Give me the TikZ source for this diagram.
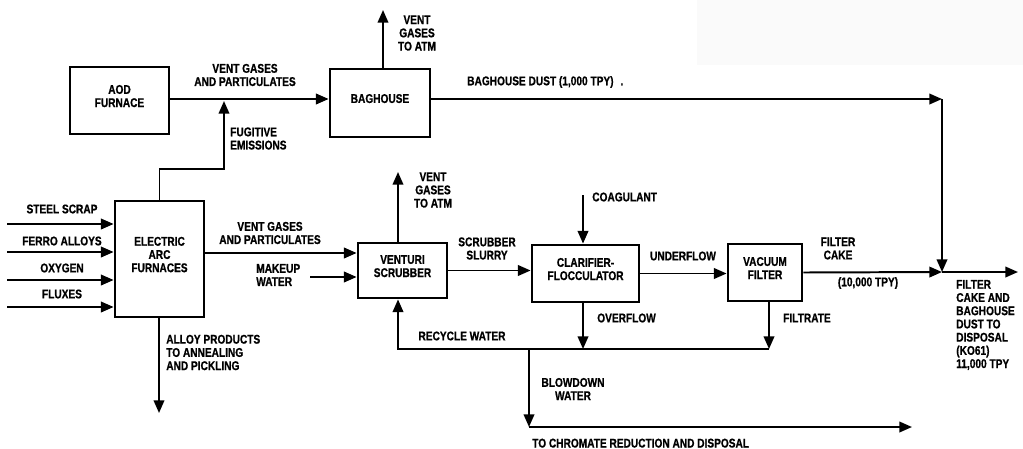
\documentclass[tikz,border=0pt]{standalone}
\usepackage{fontspec}
\setmainfont{Liberation Sans}[FakeStretch=0.8,BoldFeatures={FakeBold=0.8}]
\usetikzlibrary{arrows.meta,fit}
\begin{document}
\begin{tikzpicture}[x=0.025cm,y=-0.025cm,
  box/.style={draw,line width=2pt,inner sep=0pt,align=center,
    font=\bfseries\fontsize{9}{9.4}\selectfont},
  lbl/.style={inner sep=0pt,align=center,font=\bfseries\fontsize{9}{9.4}\selectfont},
  flow/.style={line width=1.4pt,-{Triangle[length=9pt,width=7.5pt]}}]
\useasboundingbox (0,0) rectangle (1023,448);
% faint shaded patch in the upper right corner
\fill[black!2] (697,0) rectangle (1023,65);

% process units
\node[box,fit={(70,67) (169,134)}] (aod) {AOD\\FURNACE};
\node[box,fit={(330,69) (430,137)}] (bag) {BAGHOUSE};
\node[box,fit={(115,201) (204,317)}] (eaf) {ELECTRIC\\ARC\\FURNACES};
\node[box,fit={(358,243) (447,298)}] (ven) {VENTURI\\SCRUBBER};
\node[box,fit={(532,245) (639,302)}] (cla) {CLARIFIER-\\FLOCCULATOR};
\node[box,fit={(728,244) (802,301)}] (vac) {VACUUM\\FILTER};

% reference points for the connectors
\coordinate (top) at (0,99);
\coordinate (ventA) at (383,10);
\coordinate (fugA) at (224,169);
\coordinate (fugB) at (224,101);
\coordinate (dustEnd) at (942,99);
\coordinate (junc) at (942,272);
\coordinate (outEnd) at (1018,272);
\coordinate (in1) at (7,224);
\coordinate (in2) at (7,252);
\coordinate (in3) at (7,280);
\coordinate (in4) at (7,307);
\coordinate (vgIn) at (0,253);
\coordinate (mw) at (310,277);
\coordinate (ventB) at (398,172);
\coordinate (coag) at (583,195);
\coordinate (rw) at (0,349);
\coordinate (filt) at (769,349);
\coordinate (bd) at (529,349);
\coordinate (bdEnd) at (529,427);
\coordinate (chromEnd) at (912,427);
\coordinate (alloy) at (159,413);

% AOD / baghouse line
\draw[flow] (aod.east |- top) -- (bag.west |- top);
\draw[flow] (bag.north -| ventA) -- (ventA);
\draw[flow] (eaf.north) |- (fugA) -- (fugB);
\draw[flow] (bag.east |- top) -- (dustEnd);
\draw[flow] (dustEnd) -- (junc);

% electric arc furnace line
\foreach \i in {in1,in2,in3,in4} \draw[flow] (\i) -- (\i -| eaf.west);
\draw[flow] (eaf.east |- vgIn) -- (ven.west |- vgIn);
\draw[flow] (eaf.south -| alloy) -- (alloy);
\draw[flow] (mw) -- (mw -| ven.west);
\draw[flow] (ven.north -| ventB) -- (ventB);
\draw[flow] (ven.east) -- (ven.east -| cla.west);
\draw[flow] (coag) -- (coag |- cla.north);
\draw[flow] (cla.east) -- (cla.east -| vac.west);
\draw[flow] (vac.east) -- (junc);
\draw[flow] (junc) -- (outEnd);

% water loop
\draw[flow] (cla.south -| coag) -- (coag |- rw);
\draw[flow] (filt |- vac.south) -- (filt);
\draw[flow] (filt) -- (ventB |- rw) -- (ventB |- ven.south);
\draw[flow] (bd) -- (bdEnd);
\draw[flow] (bdEnd) -- (chromEnd);

% stream labels
\node[lbl] (lVentA) at (417,33) {VENT\\GASES\\TO ATM};
\node[lbl] (lVgA) at (245,75) {VENT GASES\\AND PARTICULATES};
\node[lbl,anchor=west,align=left] (lFug) at (230,138.5) {FUGITIVE\\EMISSIONS};
\node[lbl,anchor=west] (lDust) at (467,82) {BAGHOUSE DUST (1,000 TPY)\hspace{5pt}.};
\node[lbl] (lSteel) at (62,209) {STEEL SCRAP};
\node[lbl] (lFerro) at (62,241) {FERRO ALLOYS};
\node[lbl] (lOxy) at (62,268) {OXYGEN};
\node[lbl] (lFlux) at (62,294) {FLUXES};
\node[lbl] (lVgB) at (270,233) {VENT GASES\\AND PARTICULATES};
\node[lbl,anchor=west,align=left] (lMake) at (256,275) {MAKEUP\\WATER};
\node[lbl] (lVentB) at (433,190) {VENT\\GASES\\TO ATM};
\node[lbl] (lSlurry) at (487,248.5) {SCRUBBER\\SLURRY};
\node[lbl,anchor=west] (lCoag) at (592,197) {COAGULANT};
\node[lbl] (lUnder) at (683,256) {UNDERFLOW};
\node[lbl] (lCake) at (838,248.5) {FILTER\\CAKE};
\node[lbl] (lTpy) at (868,283) {(10,000 TPY)};
\node[lbl,anchor=west,align=left] (lOut) at (956,325)
  {FILTER\\CAKE AND\\BAGHOUSE\\DUST TO\\DISPOSAL\\(KO61)\\11,000 TPY};
\node[lbl,anchor=west] (lOver) at (597,318) {OVERFLOW};
\node[lbl,anchor=west] (lFilt) at (783,318) {FILTRATE};
\node[lbl] (lRec) at (462,336) {RECYCLE WATER};
\node[lbl,anchor=west,align=left] (lAlloy) at (166,352.5)
  {ALLOY PRODUCTS\\TO ANNEALING\\AND PICKLING};
\node[lbl] (lBlow) at (573,389) {BLOWDOWN\\WATER};
\node[lbl,anchor=base west] (lChrom) at (532,447.5) {TO CHROMATE REDUCTION AND DISPOSAL};
\end{tikzpicture}
\end{document}
